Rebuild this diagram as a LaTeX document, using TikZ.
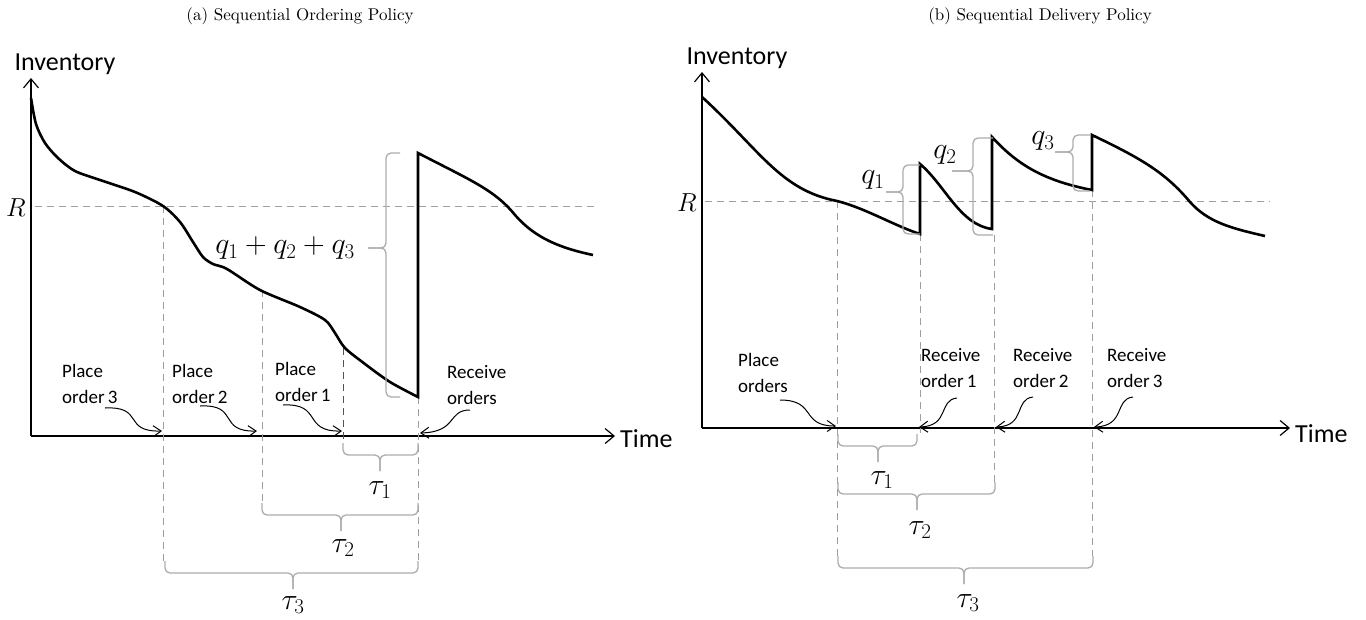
\RequirePackage{fix-cm}
\documentclass[tikz,border=0pt]{standalone}
\usepackage{fontspec}
\newfontfamily\labfont{Carlito}
\newfontfamily\titlefont[Extension=.otf]{lmroman10-regular}
\usetikzlibrary{arrows.meta}
% horizontal brace, tip down: #1 xL, #2 xR, #3 y of ends, #4 x of tip
\newcommand\HBrace[4]{%
 \draw[bracegray] (#1,#3) -- (#1,#3+12) -- (#4,#3+12) -- (#4,#3+28);
 \draw[bracegray] (#2,#3) -- (#2,#3+12) -- (#4,#3+12) -- (#4,#3+28);}
% vertical brace, tip left: #1 x of ends, #2 x of spine, #3 x of tip, #4 top, #5 bottom, #6 y of tip
\newcommand\VBrace[6]{%
 \draw[bracegray] (#1,#4) -- (#2,#4) -- (#2,#6) -- (#3,#6);
 \draw[bracegray] (#1,#5) -- (#2,#5) -- (#2,#6) -- (#3,#6);}
\begin{document}
\begin{tikzpicture}[x=1pt,y=-1pt,
 axisline/.style={line width=1.2pt, -{Straight Barb[length=9pt,width=15pt]}},
 invcurve/.style={line width=2.6pt, line join=miter},
 guide/.style={draw=gray!75, line width=1pt, dash pattern=on 7pt off 5pt},
 bluedash/.style={guide, draw=blue!45!gray},
 bracegray/.style={draw=gray!65, line width=1.3pt, rounded corners=5pt},
 pointer/.style={line width=1pt, -{Straight Barb[length=8pt,width=11pt]}},
 sanslab/.style={font=\labfont\fontsize{19}{26}\selectfont, align=left, anchor=west, inner sep=0pt},
 axlab/.style={font=\labfont\fontsize{26}{30}\selectfont, inner sep=0pt},
 mathlab/.style={font=\fontsize{30}{34}\selectfont, inner sep=0pt},
 rlab/.style={font=\fontsize{26}{30}\selectfont, inner sep=0pt},
 titlelab/.style={font=\titlefont\fontsize{17}{20}\selectfont, inner sep=0pt}]
\useasboundingbox (0,0) rectangle (1366,619);

% ---------------- titles
\node[titlelab] (ta) at (300,16) {(a) Sequential Ordering Policy};
\node[titlelab] (tb) at (1040,16) {(b) Sequential Delivery Policy};

% ================= LEFT PANEL
\coordinate (LO) at (31,436);
\coordinate (LY) at (31,78);
\coordinate (LX) at (615,436);
\draw[axisline] (LO) -- (LY);
\draw[axisline] (LO) -- (LX);
\node[axlab] (Linv) at (65,64) {Inventory};
\node[axlab, anchor=west] (Ltime) at (620,439) {Time};
\node[rlab] (LR) at (16,208) {$R$};
\draw[guide] (35,206) -- (595,206);

% guides
\draw[guide] (163,206) -- (163,561);
\draw[guide] (262,290) -- (262,503);
\draw[bluedash] (343,348) -- (343,443);
\draw[guide] (418,397) -- (418,561);

% inventory curve
\draw[invcurve] plot[smooth, tension=0.5] coordinates {(31,98) (36,124) (45,143) (58,158) (75,171) (100,180) (135,192) (163,206) (180,222) (193,242) (203,257) (213,264) (227,269) (260,290) (300,307) (325,320) (335,333) (345,348) (365,364) (390,382) (418,397)}
 -- (418,153) .. controls (470,180) and (495,190) .. (515,215)
 .. controls (535,238) and (560,248) .. (593,255);

% brace q1+q2+q3
\VBrace{400}{386}{368}{153}{397}{248}
\node[mathlab] (Lq) at (285,248) {$q_1+q_2+q_3$};

% tau braces
\HBrace{343}{418}{443}{380}
\node[mathlab] (Lt1) at (380,490) {$\tau_1$};
\HBrace{262}{418}{503}{341}
\node[mathlab] (Lt2) at (343,548) {$\tau_2$};
\HBrace{165}{418}{561}{293}
\node[mathlab] (Lt3) at (293,605) {$\tau_3$};

% labels and pointers
\node[sanslab] (Lp3) at (62,384) {Place\\order\,3};
\node[sanslab] (Lp2) at (172,384) {Place\\order\,2};
\node[sanslab] (Lp1) at (275,382) {Place\\order\,1};
\node[sanslab] (Lrc) at (447,385) {Receive\\orders};
\coordinate (a3s) at (105,408); \coordinate (a3e) at (162,431);
\coordinate (a2s) at (200,406); \coordinate (a2e) at (257,431);
\coordinate (a1s) at (283,405); \coordinate (a1e) at (342,431);
\coordinate (ars) at (470,410); \coordinate (are) at (420,433);
\draw[pointer] (a3s) .. controls (145,406) and (122,432) .. (a3e);
\draw[pointer] (a2s) .. controls (240,404) and (217,432) .. (a2e);
\draw[pointer] (a1s) .. controls (323,403) and (302,432) .. (a1e);
\draw[pointer] (ars) .. controls (447,410) and (458,432) .. (are);

% ================= RIGHT PANEL
\coordinate (RO) at (702,428);
\coordinate (RY) at (702,72);
\coordinate (RX) at (1290,428);
\draw[axisline] (RO) -- (RY);
\draw[axisline] (RO) -- (RX);
\node[axlab] (Rinv) at (737,58) {Inventory};
\node[axlab, anchor=west] (Rtime) at (1295,434) {Time};
\node[rlab] (RR) at (687,203) {$R$};
\draw[guide] (705,201) -- (1270,201);

% guides
\draw[guide] (837,201) -- (837,556);
\draw[guide] (920,234) -- (920,434);
\draw[guide] (994,235) -- (994,482);
\draw[guide] (1092,190) -- (1092,556);

% inventory curve
\draw[invcurve] (702,97) .. controls (760,150) and (780,190) .. (837,201)
 .. controls (865,208) and (895,226) .. (920,234)
 -- (920,164) .. controls (945,185) and (960,225) .. (992,229)
 -- (992,137) .. controls (1015,162) and (1040,180) .. (1092,190)
 -- (1092,135) .. controls (1140,158) and (1165,172) .. (1190,202)
 .. controls (1208,222) and (1230,228) .. (1265,236);

% q braces
\VBrace{920}{903}{886}{165}{234}{192}
\node[mathlab] (Rq1) at (873,180) {$q_1$};
\VBrace{993}{973}{952}{138}{235}{171}
\node[mathlab] (Rq2) at (945,155) {$q_2$};
\VBrace{1090}{1073}{1055}{135}{191}{152}
\node[mathlab] (Rq3) at (1043,141) {$q_3$};

% tau braces
\HBrace{838}{917}{434}{878}
\node[mathlab] (Rt1) at (882,480) {$\tau_1$};
\HBrace{838}{995}{482}{917}
\node[mathlab] (Rt2) at (920,530) {$\tau_2$};
\HBrace{838}{1093}{556}{964}
\node[mathlab] (Rt3) at (968,603) {$\tau_3$};

% labels and pointers
\node[sanslab] (Rpo) at (738,373) {Place\\orders};
\node[sanslab] (Rr1) at (921,368) {Receive\\order\,1};
\node[sanslab] (Rr2) at (1013,368) {Receive\\order\,2};
\node[sanslab] (Rr3) at (1107,368) {Receive\\order\,3};
\coordinate (bps) at (780,400); \coordinate (bpe) at (836,426);
\coordinate (b1s) at (957,398); \coordinate (b1e) at (919,427);
\coordinate (b2s) at (1033,397); \coordinate (b2e) at (996,427);
\coordinate (b3s) at (1133,397); \coordinate (b3e) at (1094,427);
\draw[pointer] (bps) .. controls (817,400) and (800,426) .. (bpe);
\draw[pointer] (b1s) .. controls (938,400) and (950,426) .. (b1e);
\draw[pointer] (b2s) .. controls (1014,399) and (1026,426) .. (b2e);
\draw[pointer] (b3s) .. controls (1114,399) and (1126,426) .. (b3e);
\end{tikzpicture}
\end{document}
